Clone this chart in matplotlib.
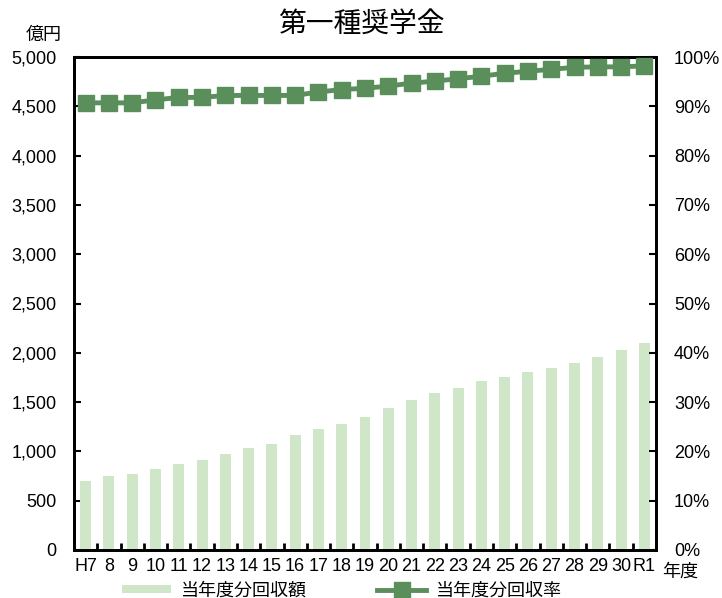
import matplotlib
matplotlib.use("Agg")
from matplotlib import pyplot as plt
from matplotlib.ticker import FuncFormatter, FixedLocator
import numpy as np

plt.rcParams['font.family'] = ['Liberation Sans', 'Noto Sans CJK JP']

years = ["H7", "8", "9", "10", "11", "12", "13", "14", "15", "16", "17", "18",
         "19", "20", "21", "22", "23", "24", "25", "26", "27", "28", "29", "30", "R1"]
amount = [700, 750, 770, 820, 870, 915, 975, 1035, 1075, 1165, 1225, 1280,
          1350, 1440, 1525, 1590, 1645, 1710, 1755, 1805, 1845, 1895, 1955, 2027, 2097]
rate = [90.7, 90.7, 90.7, 91.3, 91.8, 91.8, 92.2, 92.2, 92.2, 92.2, 92.9, 93.4,
        93.65, 94.1, 94.7, 95.1, 95.6, 96.1, 96.7, 97.1, 97.5, 97.9, 98.0, 98.0, 98.2]

BAR_COLOR = "#cfe6c8"
LINE_COLOR = "#5a8f5c"
FS = 13

fig = plt.figure(figsize=(7.22, 5.98), dpi=100)
ax = fig.add_axes([74 / 722, 1 - 550 / 598, (656 - 74) / 722, (550 - 57) / 598])
ax2 = ax.twinx()

x = np.arange(len(years))
ax.bar(x, amount, width=0.47, color=BAR_COLOR, label="当年度分回収額", zorder=2)
ax2.plot(x, rate, color=LINE_COLOR, lw=3.5, marker="s", markersize=12,
         markeredgecolor=LINE_COLOR, label="当年度分回収率", zorder=3)

ax.set_xlim(-0.5, len(years) - 0.5)
ax.set_ylim(0, 5000)
ax.set_yticks(range(0, 5001, 500))
ax.yaxis.set_major_formatter(FuncFormatter(lambda v, p: f"{int(v):,}"))
ax2.set_ylim(0, 100)
ax2.set_yticks(range(0, 101, 10))
ax2.yaxis.set_major_formatter(FuncFormatter(lambda v, p: f"{int(v)}%"))

ax.set_xticks(x)
ax.set_xticklabels(years)
ax.tick_params(axis="x", length=0, labelsize=FS, pad=6)
ax.xaxis.set_minor_locator(FixedLocator(np.arange(0.5, len(years) - 1, 1)))
ax.tick_params(axis="x", which="minor", direction="in", length=5, width=2)
ax.tick_params(axis="y", direction="in", length=5, width=1.5, labelsize=FS, pad=12.5)
ax2.tick_params(axis="y", direction="in", length=5, width=1.5, labelsize=FS, pad=13)

for a in (ax, ax2):
    for s in a.spines.values():
        s.set_linewidth(2)
        s.set_color("black")

fig.text(0.5, 1 - 25 / 598, "第一種奨学金", ha="center", va="center", fontsize=20)
fig.text(44 / 722, 1 - 35 / 598, "億円", ha="center", va="center", fontsize=FS)
fig.text(680 / 722, 1 - 572 / 598, "年度", ha="center", va="center", fontsize=FS)

h1, l1 = ax.get_legend_handles_labels()
h2, l2 = ax2.get_legend_handles_labels()
fig.legend(h1 + h2, l1 + l2, loc="center", bbox_to_anchor=(342 / 722, 1 - 591 / 598),
           ncol=2, frameon=False, fontsize=FS, columnspacing=3.9, handlelength=2.7,
           handleheight=0.35, handletextpad=0.55, borderpad=0)

fig.savefig("out.png", dpi=100)
